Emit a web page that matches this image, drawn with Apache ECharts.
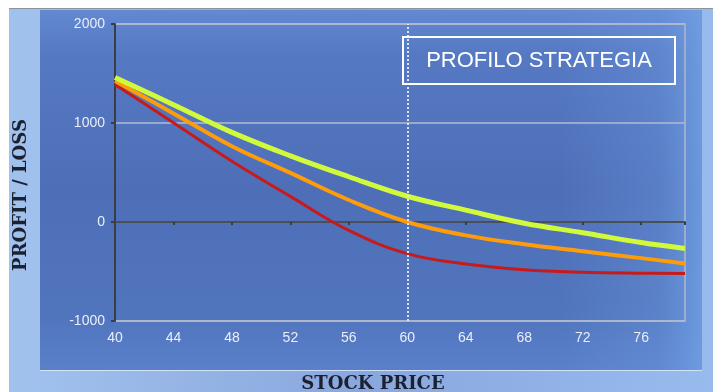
<!DOCTYPE html>
<html>
<head>
<meta charset="utf-8">
<script src="https://cdn.jsdelivr.net/npm/echarts@6/dist/echarts.min.js"></script>
<style>
  html, body { margin: 0; padding: 0; background: #ffffff; }
  #chart { width: 716px; height: 392px; }
</style>
</head>
<body>
<div id="chart"></div>
<script>
// Stock price grid (x) and profit/loss of the three strategy profiles
const stockPrice = [40, 44, 48, 52, 56, 60, 64, 68, 72, 76, 79];
const profitHigh = [1460, 1185, 905, 668, 457, 260, 120, -12, -108, -208, -268];   // lime curve
const profitMid  = [1425, 1097, 766, 496, 222, 0, -135, -225, -295, -365, -420];   // orange curve
const profitLow  = [1390, 1003, 614, 259, -85, -320, -425, -483, -508, -517, -520]; // red curve

const xTickLabels = [40, 44, 48, 52, 56, 60, 64, 68, 72, 76];
const yTickLabels = [-1000, 0, 1000, 2000];
const currentPrice = 60;

const chartTitle = 'PROFILO STRATEGIA';
const xAxisTitle = 'STOCK PRICE';
const yAxisTitle = 'PROFIT / LOSS';

const pairs = (vals) => stockPrice.map((x, i) => [x, vals[i]]);

const chart = echarts.init(document.getElementById('chart'), null, { renderer: 'canvas' });

const tickFont = { color: '#e9eef9', fontFamily: 'Liberation Sans', fontSize: 14 };

chart.setOption({
  animation: false,
  backgroundColor: '#ffffff',
  grid: {
    left: 115, right: 31, top: 24, bottom: 71,
    show: true,
    borderColor: '#aeb8ca',
    borderWidth: 1.5,
    backgroundColor: 'transparent'
  },
  xAxis: [
    {
      type: 'value',
      min: xTickLabels[0],
      max: stockPrice[stockPrice.length - 1],
      interval: 4,
      position: 'bottom',
      axisLine: { show: false, onZero: false },
      axisTick: { show: false },
      splitLine: { show: false },
      axisLabel: Object.assign({
        margin: 10,
        showMaxLabel: false,
        formatter: (v) => (xTickLabels.indexOf(v) >= 0 ? String(v) : '')
      }, tickFont)
    },
    {
      // axis line drawn across the break-even level
      type: 'value',
      min: xTickLabels[0],
      max: stockPrice[stockPrice.length - 1],
      interval: 4,
      position: 'bottom',
      axisLine: { show: true, onZero: true, lineStyle: { color: '#4b4f57', width: 2 } },
      axisTick: { show: true, length: 3, lineStyle: { color: '#3a3d44', width: 2 } },
      axisLabel: { show: false },
      splitLine: { show: false }
    }
  ],
  yAxis: {
    type: 'value',
    min: yTickLabels[0],
    max: yTickLabels[yTickLabels.length - 1],
    interval: 1000,
    axisLine: { show: true, lineStyle: { color: '#3a3d44', width: 2 } },
    axisTick: { show: true, length: 4, lineStyle: { color: '#3a3d44', width: 2 } },
    splitLine: { show: true, lineStyle: { color: '#b3bccc', width: 1.5 } },
    axisLabel: Object.assign({ margin: 10, formatter: (v) => String(v) }, tickFont)
  },
  series: [
    {
      name: 'low',
      type: 'line',
      xAxisIndex: 0,
      data: pairs(profitLow),
      smooth: 0.4,
      showSymbol: false,
      lineStyle: { color: '#c81a1a', width: 3 },
      markLine: {
        silent: true,
        symbol: ['none', 'none'],
        label: { show: false },
        lineStyle: { color: '#dde5f5', width: 2, type: [2, 2] },
        data: [{ xAxis: currentPrice }]
      }
    },
    {
      name: 'mid',
      type: 'line',
      xAxisIndex: 0,
      data: pairs(profitMid),
      smooth: 0.4,
      showSymbol: false,
      lineStyle: { color: '#ff9c0a', width: 4 }
    },
    {
      name: 'high',
      type: 'line',
      xAxisIndex: 0,
      data: pairs(profitHigh),
      smooth: 0.4,
      showSymbol: false,
      lineStyle: { color: '#d2fa3c', width: 5 }
    }
  ],
  graphic: [
    // outer light frame
    {
      type: 'rect', z: -100, silent: true,
      shape: { x: 9, y: 9, width: 704, height: 390 },
      style: {
        fill: new echarts.graphic.LinearGradient(0, 0, 1, 0, [
          { offset: 0, color: '#a2c2ee' },
          { offset: 0.5, color: '#89a7dd' },
          { offset: 1, color: '#98bbee' }
        ])
      }
    },
    {
      type: 'line', z: -99, silent: true,
      shape: { x1: 9, y1: 8.5, x2: 713, y2: 8.5 },
      style: { stroke: '#8e9299', lineWidth: 1 }
    },
    // inner blue panel
    {
      type: 'rect', z: -98, silent: true,
      shape: { x: 40, y: 10, width: 662, height: 360 },
      style: {
        fill: new echarts.graphic.LinearGradient(0, 0, 0, 1, [
          { offset: 0, color: '#6389d2' },
          { offset: 0.12, color: '#5679c3' },
          { offset: 0.5, color: '#4e6fb8' },
          { offset: 0.85, color: '#5175bd' },
          { offset: 1, color: '#5a80ca' }
        ])
      }
    },
    {
      // lighter sheen towards the right edge
      type: 'rect', z: -97, silent: true,
      shape: { x: 560, y: 10, width: 142, height: 360 },
      style: {
        fill: new echarts.graphic.LinearGradient(0, 0, 1, 0, [
          { offset: 0, color: 'rgba(110,155,225,0)' },
          { offset: 0.7, color: 'rgba(110,155,225,0.35)' },
          { offset: 1, color: 'rgba(115,162,230,0.8)' }
        ])
      }
    },
    {
      type: 'line', z: -96, silent: true,
      shape: { x1: 40, y1: 370.5, x2: 702, y2: 370.5 },
      style: { stroke: 'rgba(222,233,250,0.85)', lineWidth: 1 }
    },
    // title box
    {
      type: 'rect', z: 100, silent: true,
      shape: { x: 403, y: 37, width: 272, height: 47 },
      style: { fill: 'none', stroke: '#ffffff', lineWidth: 2 }
    },
    {
      type: 'text', z: 101, silent: true,
      x: 539, y: 61,
      style: {
        text: chartTitle, fill: '#ffffff',
        font: '22px "Liberation Sans"',
        textAlign: 'center', textVerticalAlign: 'middle'
      }
    },
    // axis titles
    {
      type: 'text', z: 101, silent: true,
      x: 373, y: 384,
      style: {
        text: xAxisTitle, fill: '#1c2131',
        font: 'bold 18px "DejaVu Serif"',
        textAlign: 'center', textVerticalAlign: 'middle'
      }
    },
    {
      type: 'text', z: 101, silent: true,
      x: 21, y: 195, rotation: Math.PI / 2,
      style: {
        text: yAxisTitle, fill: '#1c2131',
        font: 'bold 18px "DejaVu Serif"',
        textAlign: 'center', textVerticalAlign: 'middle'
      }
    }
  ]
});
</script>
</body>
</html>
